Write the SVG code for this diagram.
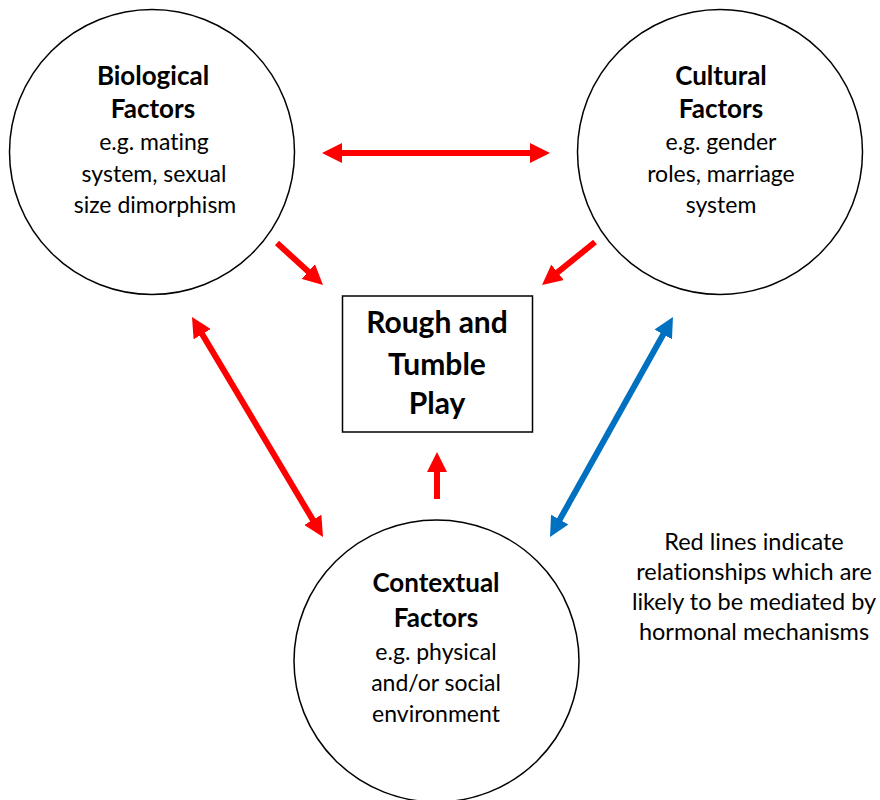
<svg xmlns="http://www.w3.org/2000/svg" width="880" height="800" viewBox="0 0 880 800">
<defs>
<marker id="hr" markerUnits="userSpaceOnUse" markerWidth="20" markerHeight="20" viewBox="0 0 20 20" refX="10" refY="10" orient="auto-start-reverse"><path d="M0,0 L20,10 L0,20 z" fill="#FF0000"/></marker>
<marker id="hb" markerUnits="userSpaceOnUse" markerWidth="20" markerHeight="20" viewBox="0 0 20 20" refX="10" refY="10" orient="auto-start-reverse"><path d="M0,0 L20,10 L0,20 z" fill="#0070C0"/></marker>
</defs>
<style>
.node{fill:#fff;stroke:#000;stroke-width:1.5}
text{font-family:Lato,"Liberation Sans",sans-serif;fill:#000;text-anchor:middle;font-variant-ligatures:none}
.t{font-weight:bold;font-size:26px}
.d{font-size:23px}
.l{font-size:23.5px}
.b{font-weight:bold;font-size:30px}
.r{stroke:#FF0000;stroke-width:6;fill:none}
.bl{stroke:#0070C0;stroke-width:6;fill:none}
</style>
<rect width="880" height="800" fill="#fff"/>
<g id="biological">
<circle class="node" cx="152" cy="152" r="142.5"/>
<text class="t" x="153" y="85">Biological</text>
<text class="t" x="153" y="118">Factors</text>
<text class="d" x="154" y="150">e.g. mating</text>
<text class="d" x="154" y="182">system, sexual</text>
<text class="d" x="155" y="213">size dimorphism</text>
</g>
<g id="cultural">
<circle class="node" cx="720" cy="152" r="142.5"/>
<text class="t" x="721" y="85">Cultural</text>
<text class="t" x="721" y="118">Factors</text>
<text class="d" x="721" y="150">e.g. gender</text>
<text class="d" x="721" y="182">roles, marriage</text>
<text class="d" x="721" y="213">system</text>
</g>
<g id="contextual">
<ellipse class="node" cx="436.5" cy="661" rx="142.5" ry="141"/>
<text class="t" x="436" y="592">Contextual</text>
<text class="t" x="436" y="627">Factors</text>
<text class="d" x="436" y="660">e.g. physical</text>
<text class="d" x="436" y="691">and/or social</text>
<text class="d" x="436" y="722">environment</text>
</g>
<g id="rtp">
<rect class="node" x="342.5" y="296" width="190" height="136"/>
<text class="b" x="437" y="333">Rough and</text>
<text class="b" x="437" y="375">Tumble</text>
<text class="b" x="437" y="414">Play</text>
</g>
<g id="legend">
<text class="l" x="754" y="550">Red lines indicate</text>
<text class="l" x="754" y="580">relationships which are</text>
<text class="l" x="754" y="610">likely to be mediated by</text>
<text class="l" x="754" y="640">hormonal mechanisms</text>
</g>
<g id="connectors">
<line class="r" x1="332" y1="153" x2="540" y2="153" marker-start="url(#hr)" marker-end="url(#hr)"/>
<line class="r" x1="277" y1="243" x2="315.6" y2="278.3" marker-end="url(#hr)"/>
<line class="r" x1="595" y1="242" x2="549.8" y2="278.7" marker-end="url(#hr)"/>
<line class="r" x1="197.1" y1="325.6" x2="317.9" y2="528.4" marker-start="url(#hr)" marker-end="url(#hr)"/>
<line class="bl" x1="668.1" y1="325.7" x2="554.9" y2="528.3" marker-start="url(#hb)" marker-end="url(#hb)"/>
<line class="r" x1="437" y1="499" x2="437" y2="462" marker-end="url(#hr)"/>
</g>
</svg>
